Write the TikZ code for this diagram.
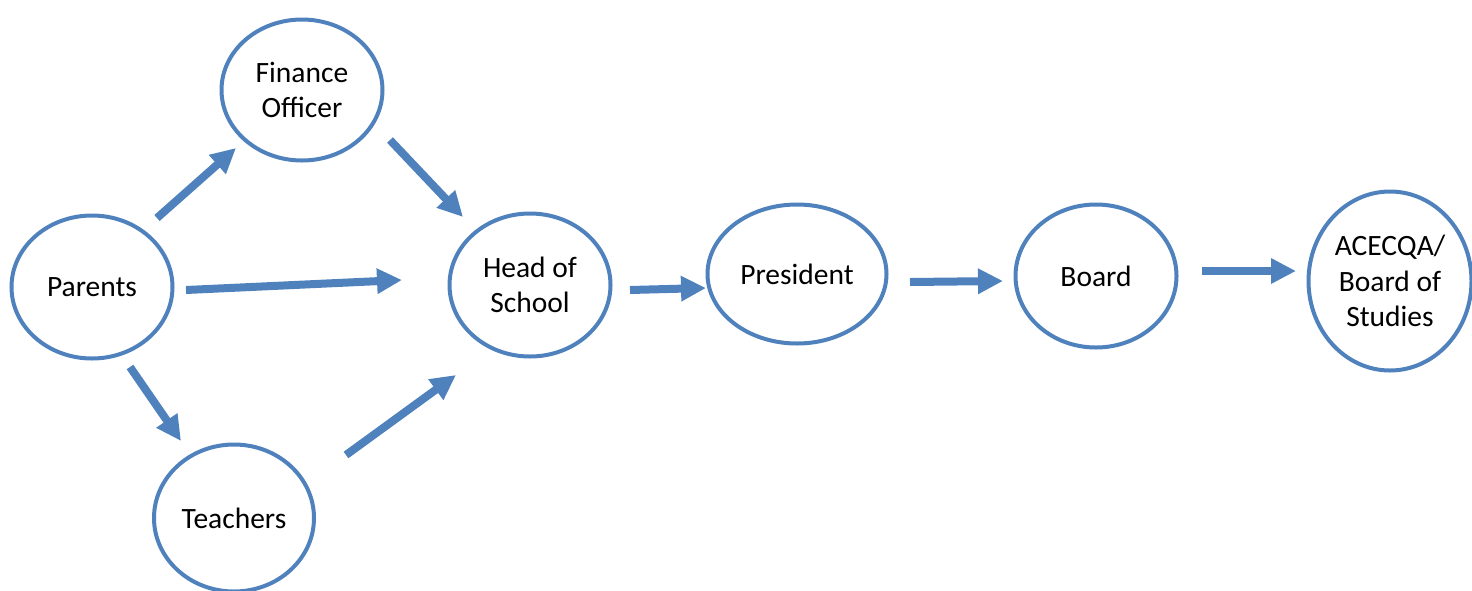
\documentclass[tikz,border=0pt]{standalone}
\usepackage{fontspec}
\setmainfont{Carlito}
\usetikzlibrary{shapes.geometric,arrows.meta}
\definecolor{ofblue}{HTML}{4F81BD}
\tikzset{
  bub/.style={ellipse,draw=ofblue,line width=4pt,inner sep=0pt,align=center,
    font=\fontsize{29.5}{35.5}\selectfont},
  arr/.style={draw=ofblue,line width=8pt,-{Triangle[length=25pt,width=24pt]}}
}
\begin{document}
\begin{tikzpicture}[x=1pt,y=-1pt]
\useasboundingbox (0,0) rectangle (1472,590);
\clip (0,0) rectangle (1472,590);
\node[bub,minimum width=161pt,minimum height=141pt] (fin) at (302,90) {Finance\\Officer};
\node[bub,minimum width=161pt,minimum height=143pt] (par) at (92,287) {Parents};
\node[bub,minimum width=161pt,minimum height=143pt] (head) at (530,285) {Head of\\School};
\node[bub,minimum width=179pt,minimum height=139pt] (pres) at (797,274) {President};
\node[bub,minimum width=161pt,minimum height=143pt] (board) at (1096,276) {Board};
\node[bub,minimum width=163pt,minimum height=179pt] (acec) at (1390,281) {ACECQA/\\Board of\\Studies};
\node[bub,minimum width=160pt,minimum height=147pt] (teach) at (234,518) {Teachers};
% arrow end points
\coordinate (pf1) at (157,218); \coordinate (pf2) at (236,148);
\coordinate (fh1) at (390,140); \coordinate (fh2) at (463,217);
\coordinate (ph1) at (186,290); \coordinate (ph2) at (402,280);
\coordinate (pt1) at (130,367); \coordinate (pt2) at (181,441);
\coordinate (th1) at (346,455); \coordinate (th2) at (456,375);
\coordinate (hp1) at (630,290); \coordinate (hp2) at (706,288);
\coordinate (pb1) at (910,282); \coordinate (pb2) at (1003,281);
\coordinate (ba1) at (1202,271); \coordinate (ba2) at (1296,271);
\draw[arr] (pf1) -- (pf2);
\draw[arr] (fh1) -- (fh2);
\draw[arr] (ph1) -- (ph2);
\draw[arr] (pt1) -- (pt2);
\draw[arr] (th1) -- (th2);
\draw[arr] (hp1) -- (hp2);
\draw[arr] (pb1) -- (pb2);
\draw[arr] (ba1) -- (ba2);
\end{tikzpicture}
\end{document}
